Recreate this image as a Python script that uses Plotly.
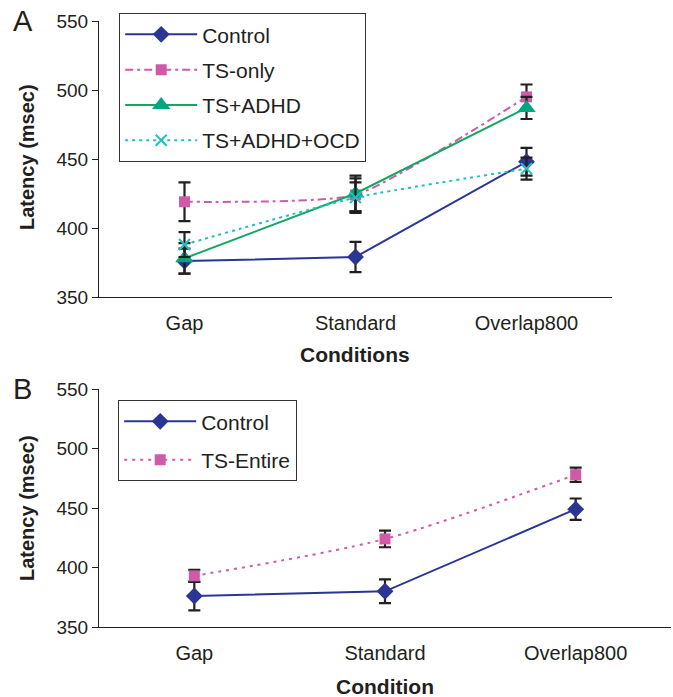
import plotly.graph_objects as go

# ---- data ----
categories = ["Gap", "Standard", "Overlap800"]

# Panel A
control_a = [376, 379, 448]
control_a_err = [9, 11, 10]
ts_only = [419, 424, 495]
ts_only_err = [14, 12, 9]
ts_adhd = [378, 425, 487]
ts_adhd_err = [11, 13, 8]
ts_adhd_ocd = [388, 422, 443]
ts_adhd_ocd_err = [9, 11, 8]

# Panel B
control_b = [376, 380, 449]
control_b_err = [12, 10, 9]
ts_entire = [393, 424, 478]
ts_entire_err = [5, 7, 6]

y_ticks = [350, 400, 450, 500, 550]

NAVY = "#2B3593"
PINK = "#D05AA8"
GREEN = "#12A862"
GREEN_M = "#00A67C"
TEAL = "#20C0C0"
FONT = "Liberation Sans, Arial, sans-serif"
TXT = "#231F20"

fig = go.Figure()

def err(a):
    return dict(type="data", array=a, color=TXT, thickness=2.2, width=6, visible=True)

# Panel A traces
fig.add_trace(go.Scatter(x=categories, y=control_a, name="Control", mode="lines+markers",
                         line=dict(color=NAVY, width=2), marker=dict(symbol="diamond", size=13, color=NAVY),
                         error_y=err(control_a_err), xaxis="x", yaxis="y", legend="legend",
                         legendgroup="a1"))
fig.add_trace(go.Scatter(x=categories, y=ts_only, name="TS-only", mode="lines+markers",
                         line=dict(color=PINK, width=2, dash="8px,4px,3px,4px", shape="spline", smoothing=0.5),
                         marker=dict(symbol="square", size=11, color=PINK),
                         error_y=err(ts_only_err), xaxis="x", yaxis="y", legend="legend",
                         legendgroup="a2"))
fig.add_trace(go.Scatter(x=categories, y=ts_adhd, name="TS+ADHD", mode="lines+markers",
                         line=dict(color=GREEN, width=2), marker=dict(symbol="triangle-up", size=16, color=GREEN_M),
                         error_y=err(ts_adhd_err), xaxis="x", yaxis="y", legend="legend",
                         legendgroup="a3"))
fig.add_trace(go.Scatter(x=categories, y=ts_adhd_ocd, name="TS+ADHD+OCD", mode="lines+markers",
                         line=dict(color=TEAL, width=2, dash="3px,4px", shape="spline", smoothing=0.5),
                         marker=dict(symbol="x-thin-open", size=11, color=TEAL, line=dict(color=TEAL, width=2)),
                         error_y=err(ts_adhd_ocd_err), xaxis="x", yaxis="y", legend="legend",
                         legendgroup="a4"))

# Panel B traces
fig.add_trace(go.Scatter(x=categories, y=control_b, name="Control", mode="lines+markers",
                         line=dict(color=NAVY, width=2), marker=dict(symbol="diamond", size=13, color=NAVY),
                         error_y=err(control_b_err), xaxis="x2", yaxis="y2", legend="legend2",
                         legendgroup="b1"))
fig.add_trace(go.Scatter(x=categories, y=ts_entire, name="TS-Entire", mode="lines+markers",
                         line=dict(color=PINK, width=2, dash="3px,5px", shape="spline", smoothing=0.8),
                         marker=dict(symbol="square", size=11, color=PINK),
                         error_y=err(ts_entire_err), xaxis="x2", yaxis="y2", legend="legend2",
                         legendgroup="b2"))

W, H = 673, 697
def px(x):
    return x / W
def py(y):
    return 1 - y / H

axis_common = dict(showline=True, linecolor=TXT, linewidth=1.2, showgrid=False, zeroline=False,
                   automargin=False)

xa = dict(axis_common, type="category", range=[-0.5, 2.5], ticks="", categoryorder="array",
          categoryarray=categories, ticklabelstandoff=8,
          tickfont=dict(family=FONT, size=20, color=TXT))
ya = dict(axis_common, range=[350, 550], tickvals=y_ticks, ticks="outside", ticklen=6,
          tickcolor=TXT, tickwidth=1.2, tickfont=dict(family=FONT, size=19, color=TXT))

legend_common = dict(bordercolor="#333", borderwidth=1.2, bgcolor="white",
                     font=dict(family=FONT, size=21, color=TXT), xanchor="left", yanchor="top",
                     itemsizing="trace", itemwidth=72)

def ann(text, x, y, size, angle=0):
    return dict(text=text, x=px(x), y=py(y), xref="paper", yref="paper", showarrow=False,
                xanchor="center", yanchor="middle", textangle=angle,
                font=dict(family=FONT, size=size, color=TXT))

fig.update_layout(
    width=W, height=H, autosize=False,
    margin=dict(l=0, r=0, t=0, b=0, pad=0, autoexpand=False),
    paper_bgcolor="white", plot_bgcolor="white",
    font=dict(family=FONT, color=TXT),
    xaxis=dict(xa, domain=[px(99), px(612)], anchor="y"),
    yaxis=dict(ya, domain=[py(297), py(21)], anchor="x"),
    xaxis2=dict(xa, domain=[px(99), px(671)], anchor="y2"),
    yaxis2=dict(ya, domain=[py(627), py(389)], anchor="x2"),
    legend=dict(legend_common, x=px(119), y=py(13), tracegroupgap=5),
    legend2=dict(legend_common, x=px(118), y=py(400), tracegroupgap=8),
    showlegend=True,
    annotations=[
        ann("A", 23, 21, 29),
        ann("B", 23, 389, 29),
        ann("<b>Latency (msec)</b>", 27, 157, 20, -90),
        ann("<b>Latency (msec)</b>", 27, 508, 20, -90),
        ann("<b>Conditions</b>", 355, 355, 21),
        ann("<b>Condition</b>", 385, 686, 21),
    ],
)

fig.write_html("out.html", config={"displayModeBar": False},
               post_script="document.body.style.margin='0';")
